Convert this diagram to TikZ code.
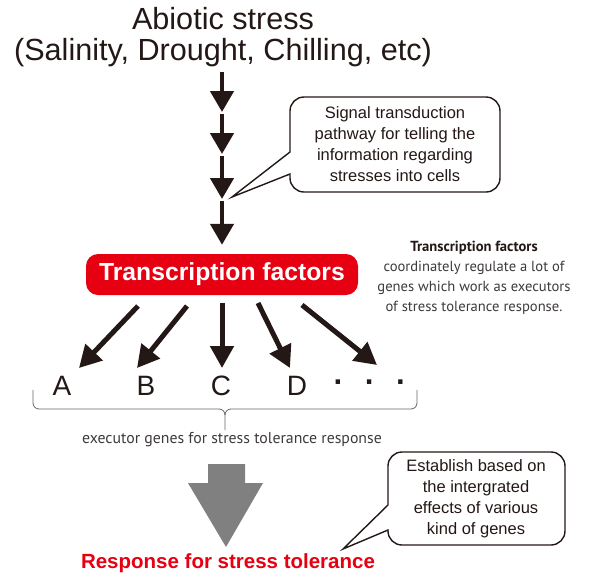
\documentclass[tikz,border=0pt]{standalone}
\usepackage{fontspec}
\setmainfont{Liberation Sans}
\newfontfamily\capfont{PT Sans}
\usetikzlibrary{arrows.meta}
\definecolor{tfred}{RGB}{230,0,18}
\definecolor{ink}{RGB}{35,24,21}
\definecolor{capgray}{RGB}{62,58,57}

\begin{document}
\begin{tikzpicture}[
      x=1pt,y=-1pt,
      ttl/.style={align=center,text=ink,inner sep=0pt,font=\fontsize{30.6}{31}\selectfont},
      TF/.style={rectangle,rounded corners=12pt,fill=tfred,text=white,minimum width=272pt,minimum height=41pt,inner sep=0pt,font=\bfseries\fontsize{24.7}{26}\selectfont},
      note/.style={align=center,text=capgray,inner sep=0pt,font=\capfont\fontsize{14.6}{20}\selectfont},
      gene/.style={text=ink,inner sep=0pt,font=\fontsize{28}{28}\selectfont},
      sig/.style={ink,line width=4.5pt,-{Triangle[length=21pt,width=23pt]}},
      fan/.style={ink,line width=5pt,-{Triangle[length=22pt,width=23pt]}},
      bubble/.style={ink,line width=1.4pt,fill=white},
      btxt/.style={align=center,text=ink,inner sep=0pt,font=\fontsize{16.5}{21}\selectfont},
      brc/.style={gray!80!black,line width=0.8pt},
      resp/.style={text=tfred,inner sep=0pt,font=\bfseries\fontsize{20.5}{22}\selectfont}]
    \useasboundingbox (0,0) rectangle (590,574);
    \node[ttl] (stress) at (223,37) {Abiotic stress\\(Salinity, Drought, Chilling, etc)};
    \node[TF] (tf) at (222,274.5) {Transcription factors};
    % signal chain
    \coordinate (v0) at (222,72);
    \coordinate (v1) at (222,114);
    \coordinate (v2) at (222,156);
    \coordinate (v3) at (222,201);
    \draw[sig,shorten >=2pt] (v0)--(v1);
    \draw[sig,shorten >=2pt] (v1)--(v2);
    \draw[sig,shorten >=2pt] (v2)--(v3);
    \draw[sig,shorten >=9pt] (v3)--(tf);
    % callout 1
    \draw[bubble] (290,152) [rounded corners=14pt] -- (290,97) -- (500,97) -- (500,192) -- (290,192) [sharp corners] -- (290,174) -- (232,197) -- cycle;
    \node[btxt] (signal) at (395,144) {Signal transduction\\pathway for telling the\\information regarding\\stresses into cells};
    \node[note] (tfnote) at (474,278) {{\color{ink}\bfseries Transcription factors}\\coordinately regulate a lot of\\genes which work as executors\\of stress tolerance response.};
    % executor genes
    \node[gene] (gA) at (62,386) {A};
    \node[gene] (gB) at (146,386) {B};
    \node[gene] (gC) at (221,386) {C};
    \node[gene] (gD) at (297,386) {D};
    \node[gene,font=\bfseries\fontsize{31}{31}\selectfont] (gdots) at (370,386) {\textperiodcentered\hspace{21pt}\textperiodcentered\hspace{21pt}\textperiodcentered};
    \coordinate (fA0) at (138,306);  \coordinate (fA1) at (79,368);
    \coordinate (fB0) at (187,306);  \coordinate (fB1) at (137,368);
    \coordinate (fC0) at (222,303);  \coordinate (fC1) at (222,368);
    \coordinate (fD0) at (258,303);  \coordinate (fD1) at (290,368);
    \coordinate (fE0) at (302,305);  \coordinate (fE1) at (377,365);
    \draw[fan] (fA0)--(fA1);
    \draw[fan] (fB0)--(fB1);
    \draw[fan] (fC0)--(fC1);
    \draw[fan] (fD0)--(fD1);
    \draw[fan] (fE0)--(fE1);
    % brace
    \draw[brc] (33,390) -- (33,403) to[out=-90,in=180] (39,409) -- (219,409) to[out=0,in=90] (225,415) -- (225,430);
    \draw[brc] (417,390) -- (417,403) to[out=-90,in=0] (411,409) -- (231,409) to[out=180,in=90] (225,415);
    \node[note,font=\capfont\fontsize{15.8}{20}\selectfont] (exec) at (232,440) {executor genes for stress tolerance response};
    % response
    \fill[black!50] (208,464) -- (245,464) -- (245,483) -- (263,483) -- (226,547) -- (188,483) -- (208,483) -- cycle;
    \node[resp] (resp) at (228,563) {Response for stress tolerance};
    \draw[bubble] (388,505) [rounded corners=14pt] -- (388,452) -- (565,452) -- (565,545) -- (388,545) [sharp corners] -- (388,530) -- (343,549) -- cycle;
    \node[btxt] (establish) at (476,499) {Establish based on\\the intergrated\\effects of various\\kind of genes};
  \end{tikzpicture}
\end{document}
